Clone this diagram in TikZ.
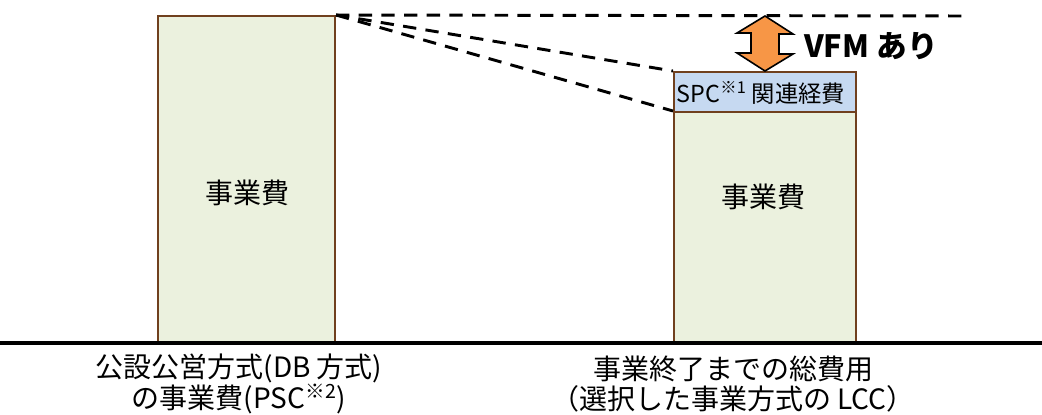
\documentclass[tikz,border=0pt]{standalone}
\usepackage{fontspec}
\setmainfont{Noto Sans CJK JP}
\usepackage{tikz}
\usetikzlibrary{positioning}

\definecolor{barline}{HTML}{70401E}
\definecolor{barfill}{HTML}{EBF1DE}
\definecolor{spcfill}{HTML}{C6D9F1}
\definecolor{vfmfill}{HTML}{F79646}

\begin{document}
\begin{tikzpicture}[x=0.75pt,y=-0.75pt,
    bar/.style={draw=barline, fill=barfill, line width=1.5pt, inner sep=0pt},
    guide/.style={line width=2.2pt, dash pattern=on 10pt off 7pt},
    txt/.style={font=\fontsize{21pt}{22pt}\selectfont, align=center, inner sep=0pt}
]
\useasboundingbox (0,0) rectangle (1042,414);

\node[bar, minimum width=132.75pt, minimum height=245.25pt] (psc) at (246.5,179.5) {};
\node[bar, minimum width=136.5pt, minimum height=173.25pt] (lcc) at (765,227.5) {};
\node[bar, fill=spcfill, minimum width=136.5pt, minimum height=30pt] (spc) at (765,92) {};

\node[txt] (pscText) at (247,193) {事業費};
\node[txt] (lccText) at (763,197) {事業費};
\node[txt, font=\fontsize{17.5pt}{18pt}\selectfont] (spcText) at (761,93) {SPC\textsuperscript{※1} 関連経費};

\coordinate (gl) at (0,343);
\coordinate (gr) at (1042,343);
\draw[line width=2.4pt] (gl) -- (gr);

\coordinate (topEnd) at (970,16);
\draw[guide] (psc.north east) -- (topEnd);
\draw[guide] (psc.north east) -- (spc.north west);
\draw[guide] (psc.north east) -- (lcc.north west);

\coordinate (vfmTop) at (765,16);
\filldraw[fill=vfmfill, line width=1.2pt, line join=miter]
  (vfmTop) -- ++(28,18) -- ++(-14,0) -- ++(0,20) -- ++(14,0) -- (spc.north)
  -- ++(-28,-18) -- ++(14,0) -- ++(0,-20) -- ++(-14,0) -- cycle;
\node[txt, font=\bfseries\fontsize{23pt}{24pt}\selectfont, anchor=west] (vfm) at (804,46) {VFM あり};

\node[txt] (pscLabel) at (239,384) {公設公営方式(DB 方式)\\の事業費(PSC\textsuperscript{※2})};
\node[txt] (lccLabel) at (733,384) {事業終了までの総費用\\（選択した事業方式の LCC）};
\end{tikzpicture}
\end{document}
